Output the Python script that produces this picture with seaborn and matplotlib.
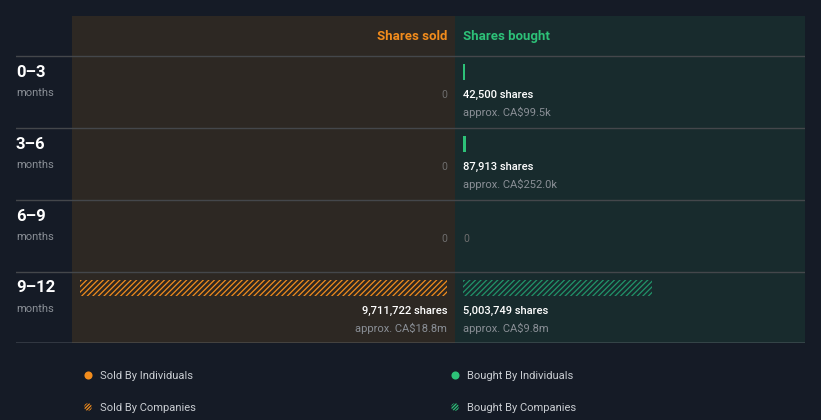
import matplotlib.pyplot as plt
import seaborn as sns

periods = ['0–3', '3–6', '6–9', '9–12']
sold_individuals = [0, 0, 0, 0]
sold_companies = [0, 0, 0, 9711722]
bought_individuals = [42500, 87913, 0, 0]
bought_companies = [0, 0, 0, 5003749]
sold_approx = [None, None, None, 'CA$18.8m']
bought_approx = ['CA$99.5k', 'CA$252.0k', None, 'CA$9.8m']
legend_labels = ['Sold By Individuals', 'Sold By Companies',
                 'Bought By Individuals', 'Bought By Companies']

BG = '#151b26'
SOLD_BG = '#2d2823'
BOUGHT_BG = '#182b2d'
ORANGE = '#f28c1c'
GREEN = '#2dc178'
GREEN_HATCH = '#21946a'
GREY = '#8a8f96'

plt.rcParams['font.family'] = ['Roboto', 'DejaVu Sans']
plt.rcParams['hatch.linewidth'] = 0.9

W, H = 821, 420
fig = plt.figure(figsize=(W / 100, H / 100), dpi=100, facecolor=BG)


def box(x0, x1, y0=16, y1=343):
    return [x0 / W, (H - y1) / H, (x1 - x0) / W, (y1 - y0) / H]


# shares per pixel, same scale on both sides
px = 9711722 / 367
ylim = (3.764, -0.778)

ax_sold = fig.add_axes(box(72, 455), facecolor=SOLD_BG)
ax_buy = fig.add_axes(box(455, 805), facecolor=BOUGHT_BG)

sns.barplot(x=sold_individuals, y=periods, orient='h', ax=ax_sold, color=ORANGE,
            saturation=1, width=0.222, edgecolor=ORANGE, linewidth=0)
sns.barplot(x=sold_companies, y=periods, orient='h', ax=ax_sold, color=SOLD_BG,
            saturation=1, width=0.222, edgecolor=ORANGE, linewidth=0, hatch='//////')
sns.barplot(x=bought_individuals, y=periods, orient='h', ax=ax_buy, color=GREEN,
            saturation=1, width=0.222, edgecolor=GREEN, linewidth=0)
sns.barplot(x=bought_companies, y=periods, orient='h', ax=ax_buy, color=BOUGHT_BG,
            saturation=1, width=0.222, edgecolor=GREEN_HATCH, linewidth=0, hatch='//////')

ax_sold.set_xlim(375 * px, -8 * px)
ax_buy.set_xlim(-8 * px, 342 * px)

for ax in (ax_sold, ax_buy):
    ax.set_ylim(*ylim)
    ax.set_xticks([])
    ax.set_yticks([])
    ax.set_xlabel('')
    ax.set_ylabel('')
    for s in ax.spines.values():
        s.set_visible(False)

ax_sold.text(0, -0.5, 'Shares sold', ha='right', va='center', color=ORANGE,
             fontsize=9.5, fontweight='bold')
ax_buy.text(0, -0.5, 'Shares bought', ha='left', va='center', color=GREEN,
            fontsize=9.5, fontweight='bold')

for i in range(len(periods)):
    for ax, ind, comp, approx, ha in (
            (ax_sold, sold_individuals, sold_companies, sold_approx, 'right'),
            (ax_buy, bought_individuals, bought_companies, bought_approx, 'left')):
        total = ind[i] + comp[i]
        if total == 0:
            ax.text(0, i + 0.32, '0', ha=ha, va='center', color='#6e6e6e', fontsize=7.5)
        else:
            ax.text(0, i + 0.32, f'{total:,} shares', ha=ha, va='center',
                    color='white', fontsize=8, fontweight='medium')
            ax.text(0, i + 0.556, f'approx. {approx[i]}', ha=ha, va='center',
                    color=GREY, fontsize=8)

# row labels and separators
ax_bg = fig.add_axes(box(16, 805))
ax_bg.patch.set_alpha(0)
ax_bg.set_xlim(0, 1)
ax_bg.set_ylim(*ylim)
ax_bg.axis('off')
for i, p in enumerate(periods):
    ax_bg.axhline(i - 0.222, color='#44474b', linewidth=1)
    ax_bg.text(0, i, p, ha='left', va='center', color='white',
               fontsize=12, fontweight='bold')
    ax_bg.text(0, i + 0.292, 'months', ha='left', va='center', color=GREY, fontsize=8)
ax_bg.axhline(ylim[0], color='#a7adb3', linewidth=1)

# legend
ax_leg = fig.add_axes([0, 0, 1, 1])
ax_leg.patch.set_alpha(0)
ax_leg.set_xlim(0, W)
ax_leg.set_ylim(H, 0)
ax_leg.axis('off')
leg_x = [88, 88, 455, 455]
leg_y = [375, 407, 375, 407]
leg_col = [ORANGE, ORANGE, GREEN, GREEN]
for lx, ly, c, lab, hatched in zip(leg_x, leg_y, leg_col, legend_labels,
                                   [False, True, False, True]):
    if hatched:
        ax_leg.scatter(lx, ly, s=30, marker='o', facecolor=BG, edgecolor=c,
                       linewidth=0, hatch='//////////')
    else:
        ax_leg.scatter(lx, ly, s=34, marker='o', color=c, linewidth=0)
    ax_leg.text(lx + 12, ly + 1, lab, ha='left', va='center', color='#c9cdd2', fontsize=8)

fig.savefig('out.png', dpi=100, facecolor=BG)
